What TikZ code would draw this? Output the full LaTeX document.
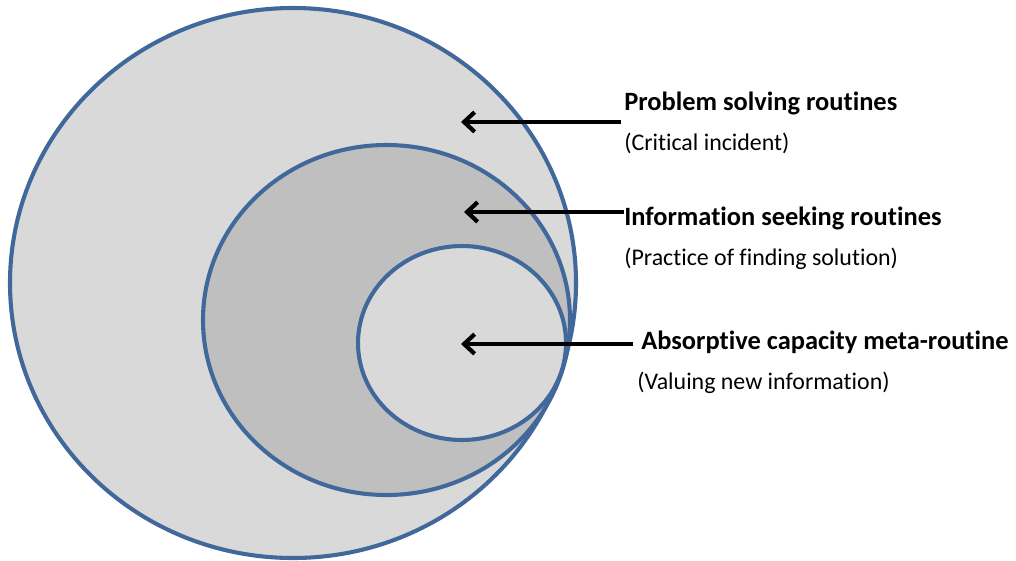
\documentclass[tikz,border=0pt]{standalone}
\usepackage{fontspec}
\setmainfont[Ligatures={NoCommon}]{Carlito}
\usepackage{xcolor}
\usetikzlibrary{arrows.meta}

\definecolor{ringblue}{HTML}{41689A}
\definecolor{outerfill}{HTML}{D9D9D9}
\definecolor{middlefill}{HTML}{BFBFBF}

\begin{document}
\begin{tikzpicture}[x=0.025cm, y=-0.025cm,
		ring/.style={draw=ringblue, line width=2.9pt},
		pointer/.style={-{Straight Barb[length=7.5pt, width=14pt]}, line width=3pt},
		title/.style={anchor=base west, inner sep=0pt, font=\fontsize{18.8}{22}\selectfont\bfseries},
		note/.style={anchor=base west, inner sep=0pt, font=\fontsize{17}{20}\selectfont}]
		\useasboundingbox (0,0) rectangle (1016,560);
		% nested rings
		\filldraw[ring, fill=outerfill] (293,283) ellipse [x radius=283, y radius=275];
		\filldraw[ring, fill=middlefill] (386.5,320) ellipse [x radius=183.5, y radius=175];
		\filldraw[ring, fill=outerfill] (462,343) ellipse [x radius=104, y radius=97];
		% labels
		\node[title] (problem) at (624,110) {Problem solving routines};
		\node[note] (critical) at (624,150) {(Critical incident)};
		\node[title] (seeking) at (624,225) {Information seeking routines};
		\node[note] (practice) at (624,265) {(Practice of finding solution)};
		\node[title] (absorptive) at (641,349) {Absorptive capacity meta-routine};
		\node[note] (valuing) at (637,389) {(Valuing new information)};
		% arrows
		\coordinate (problem-in) at (461,122);
		\coordinate (seeking-in) at (464,212);
		\coordinate (absorptive-in) at (461,344);
		\draw[pointer] (problem.west |- problem-in) ++(-3,0) -- (problem-in);
		\draw[pointer] (seeking.west |- seeking-in) -- (seeking-in);
		\draw[pointer] (absorptive.west |- absorptive-in) ++(-8,0) -- (absorptive-in);
\end{tikzpicture}
\end{document}
